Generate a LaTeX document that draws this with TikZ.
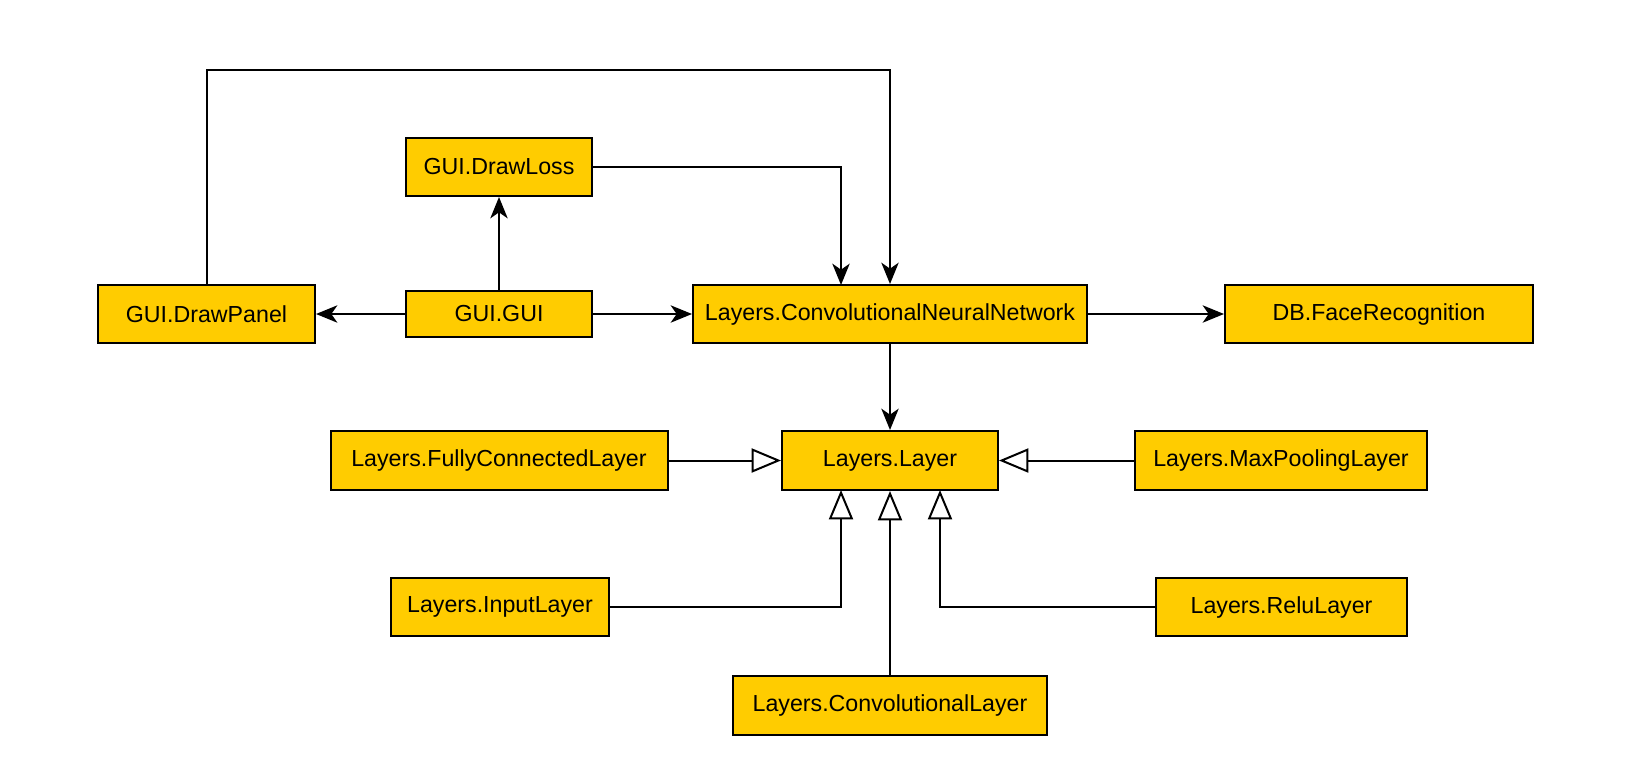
\documentclass[tikz,border=0pt]{standalone}
\usepackage{fontspec}
\setmainfont{Liberation Sans}
\usetikzlibrary{arrows.meta}

\definecolor{classgold}{RGB}{255,204,0}

\tikzset{every picture/.style={line width=1.5pt}}
\tikzset{
	classbox/.style 2 args={draw, fill=classgold, inner sep=0pt,
		minimum width=#1*0.75pt, minimum height=#2*0.75pt,
		font=\fontsize{17.4}{20}\selectfont},
	uses/.style={-{Stealth[length=16pt,width=13pt,inset=4.5pt]}},
	inherits/.style={-{Triangle[open,length=22pt,width=18pt,fill=white]}}
}

\begin{document}
\begin{tikzpicture}[x=0.75pt,y=0.75pt,yscale=-1,xscale=1]
	\useasboundingbox (0,0) rectangle (1638,779);
	
	% GUI classes
	\node [classbox={186}{58}] (drawloss) at (499,167) {GUI.DrawLoss};
	\node [classbox={217}{58}] (drawpanel) at (206.5,314) {GUI.DrawPanel};
	\node [classbox={186}{46}] (gui) at (499,314) {GUI.GUI};
	% network and database
	\node [classbox={394}{58}] (cnn) at (890,314) {Layers.ConvolutionalNeuralNetwork};
	\node [classbox={308}{58}] (facerec) at (1379,314) {DB.FaceRecognition};
	% layers
	\node [classbox={216}{59}] (layer) at (890,460.5) {Layers.Layer};
	\node [classbox={337}{59}] (fully) at (499,460.5) {Layers.FullyConnectedLayer};
	\node [classbox={292}{59}] (maxpool) at (1281,460.5) {Layers.MaxPoolingLayer};
	\node [classbox={218}{58}] (input) at (500,607) {Layers.InputLayer};
	\node [classbox={251}{58}] (relu) at (1281.5,607) {Layers.ReluLayer};
	\node [classbox={314}{59}] (conv) at (890,705) {Layers.ConvolutionalLayer};
	
	% bend points
	\coordinate (topleft) at (206.5,70);
	\coordinate (lossin) at (841,285);
	\coordinate (inputin) at (841,490);
	\coordinate (reluin) at (940,490);
	
	% associations
	\draw [uses] (gui.west) -- (drawpanel.east);
	\draw [uses] (gui.north) -- (drawloss.south);
	\draw [uses] (gui.east) -- (cnn.west);
	\draw [uses] (drawloss.east) -| (lossin);
	\draw [uses] (drawpanel.north) -- (topleft) -| (cnn.north);
	\draw [uses] (cnn.east) -- (facerec.west);
	\draw [uses] (cnn.south) -- (layer.north);
	
	% inheritance
	\draw [inherits] (fully.east) -- (layer.west);
	\draw [inherits] (maxpool.west) -- (layer.east);
	\draw [inherits] (conv.north) -- (layer.south);
	\draw [inherits] (input.east) -| (inputin);
	\draw [inherits] (relu.west) -| (reluin);
	
\end{tikzpicture}
\end{document}
